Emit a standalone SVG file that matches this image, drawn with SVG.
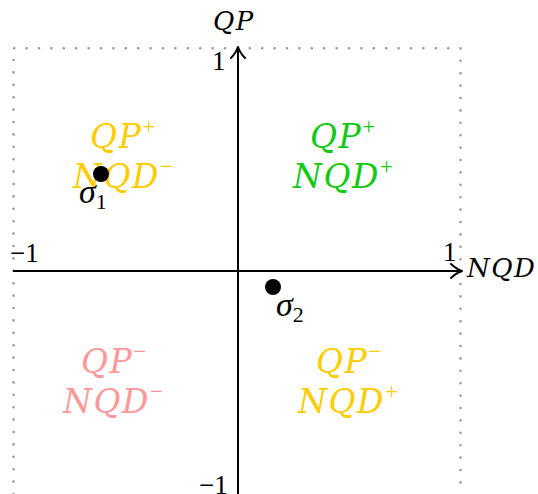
<svg xmlns="http://www.w3.org/2000/svg" width="538" height="494" viewBox="0 0 538 494">
<style>
.axis{stroke:#000;stroke-width:2;fill:none}
.tip{stroke:#000;stroke-width:2;fill:none;stroke-linecap:round;stroke-linejoin:round}
</style>
<rect width="538" height="494" fill="#fff"/>
<g id="frame">
<path d="M13.5,494 V48.3 H460.5 V494" fill="none" stroke="#999" stroke-width="2.6" stroke-linecap="round" stroke-dasharray="0 12.4"/>
</g>
<g id="connectors">
<path class="axis" d="M13,271 H461"/>
<path class="tip" d="M451,264 Q457,269.5 462,271 Q457,272.5 451,278"/>
<path class="axis" d="M238,494 V48"/>
<path class="tip" d="M231,58 Q236.5,52 238,47 Q239.5,52 245,58"/>
</g>
<g id="axis-labels" fill="#000">
<g font-family="DejaVu Serif, serif" font-style="italic" font-size="26" letter-spacing="1.5">
<text x="213" y="30">QP</text>
<text x="467" y="277">NQD</text>
</g>
<g font-family="Liberation Serif, serif" font-size="27">
<text x="212" y="70">1</text>
<text x="10" y="262">−1</text>
<text x="443" y="261">1</text>
<text x="199" y="494">−1</text>
</g>
</g>
<g font-family="DejaVu Serif, serif" font-style="italic" font-size="33" letter-spacing="1.5">
<g id="q2" fill="#FFCC00">
<text x="90" y="148">QP<tspan font-family="Liberation Serif, serif" font-style="normal" font-size="23" dy="-14">+</tspan></text>
<text x="73" y="188">NQD<tspan font-family="Liberation Serif, serif" font-style="normal" font-size="23" dy="-14">−</tspan></text>
</g>
<g id="q1" fill="#14C814">
<text x="310" y="148">QP<tspan font-family="Liberation Serif, serif" font-style="normal" font-size="23" dy="-14">+</tspan></text>
<text x="293" y="188">NQD<tspan font-family="Liberation Serif, serif" font-style="normal" font-size="23" dy="-14">+</tspan></text>
</g>
<g id="q3" fill="#FF9999">
<text x="81" y="373">QP<tspan font-family="Liberation Serif, serif" font-style="normal" font-size="23" dy="-14">−</tspan></text>
<text x="63" y="413">NQD<tspan font-family="Liberation Serif, serif" font-style="normal" font-size="23" dy="-14">−</tspan></text>
</g>
<g id="q4" fill="#FFCC00">
<text x="316" y="373">QP<tspan font-family="Liberation Serif, serif" font-style="normal" font-size="23" dy="-14">−</tspan></text>
<text x="298" y="413">NQD<tspan font-family="Liberation Serif, serif" font-style="normal" font-size="23" dy="-14">+</tspan></text>
</g>
</g>
<g id="sigma1">
<circle cx="101" cy="174" r="8" fill="#000"/>
<text font-family="Liberation Serif, serif" font-style="italic" font-size="34" x="79" y="203">σ<tspan font-style="normal" font-size="22" dy="6">1</tspan></text>
</g>
<g id="sigma2">
<circle cx="273" cy="287" r="8" fill="#000"/>
<text font-family="Liberation Serif, serif" font-style="italic" font-size="34" x="276" y="316">σ<tspan font-style="normal" font-size="22" dy="6">2</tspan></text>
</g>
</svg>
